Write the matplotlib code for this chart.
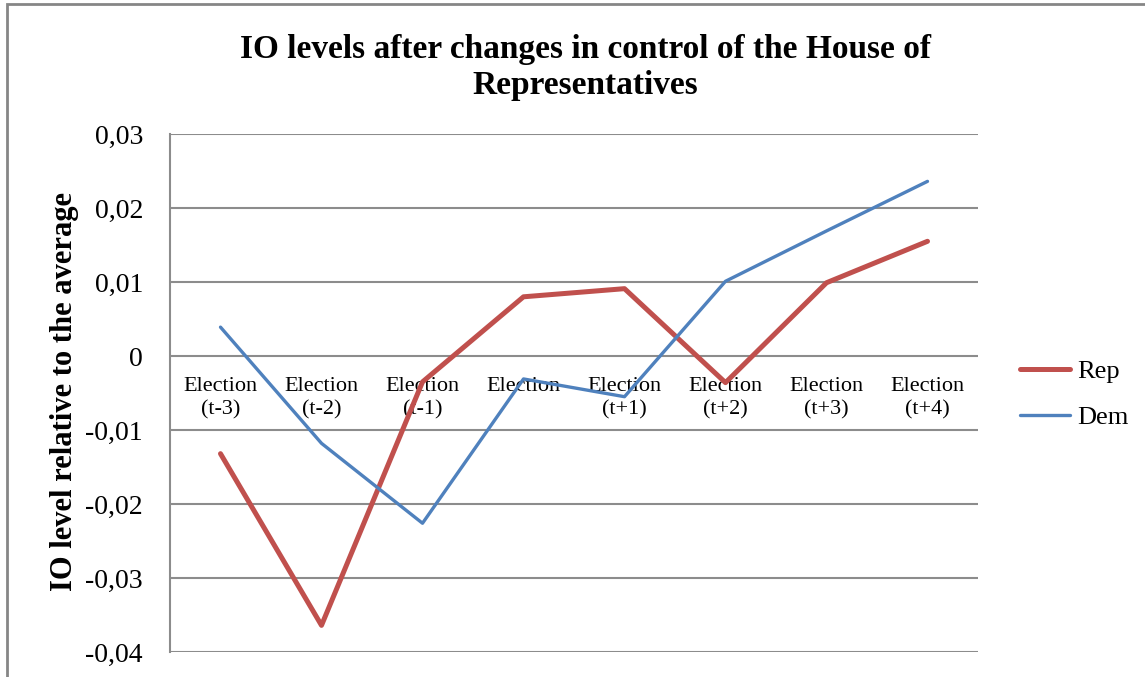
import matplotlib
matplotlib.use("Agg")
import matplotlib.pyplot as plt
from matplotlib.patches import Rectangle
from matplotlib.ticker import FuncFormatter

# Données
categories = ["Election\n(t-3)", "Election\n(t-2)", "Election\n(t-1)", "Election",
              "Election\n(t+1)", "Election\n(t+2)", "Election\n(t+3)", "Election\n(t+4)"]
rep = [-0.0132, -0.0364, -0.0035, 0.0080, 0.0091, -0.0036, 0.0099, 0.0155]
dem = [0.0039, -0.0118, -0.0226, -0.0031, -0.0055, 0.0101, 0.0169, 0.0236]

serif = "Liberation Serif"
grid_col = "#8c8c8c"

fig = plt.figure(figsize=(11.45, 6.77), dpi=100)
ax = fig.add_axes([170 / 1145, 25 / 677, 808 / 1145, 518 / 677])

# Cadre du graphique
fig.patches.append(Rectangle((7 / 1145, -0.1), 1.2, (673 / 677) + 0.1,
                             transform=fig.transFigure, fill=False,
                             edgecolor="#868686", linewidth=2))

x = [i + 0.5 for i in range(len(categories))]
ax.plot(x, rep, color="#C0504D", linewidth=3.6, label="Rep", solid_capstyle="round", zorder=3)
ax.plot(x, dem, color="#4F81BD", linewidth=2.4, label="Dem", solid_capstyle="round", zorder=3)

ax.set_xlim(0, len(categories))
ax.set_ylim(-0.04, 0.03)
ax.set_yticks([-0.04, -0.03, -0.02, -0.01, 0, 0.01, 0.02, 0.03])
ax.yaxis.set_major_formatter(FuncFormatter(
    lambda v, p: "0" if abs(v) < 1e-9 else f"{v:.2f}".replace(".", ",")))
ax.set_xticks([])
ax.grid(axis="y", color=grid_col, linewidth=1.5)
ax.set_axisbelow(True)
for s in ["top", "right", "bottom"]:
    ax.spines[s].set_visible(False)
ax.spines["left"].set_color(grid_col)
ax.spines["left"].set_linewidth(1.5)
ax.tick_params(axis="y", length=0, pad=19.5, labelsize=20)
for lab in ax.get_yticklabels():
    lab.set_fontfamily(serif)

# Étiquettes des catégories sur l'axe y = 0
for xi, c in zip(x, categories):
    ax.text(xi, -0.0028, c, ha="center", va="top", fontsize=16,
            family=serif, linespacing=1.3, zorder=2)

ax.set_ylabel("IO level relative to the average", fontsize=22, fontweight="bold",
              family=serif)
ax.yaxis.set_label_coords(-0.113, 0.502)

fig.text(0.511, 0.900, "IO levels after changes in control of the House of\nRepresentatives",
         ha="center", va="center", fontsize=24, fontweight="bold", family=serif,
         linespacing=1.2)

ax.legend(loc="center left", bbox_to_anchor=(1.022, 0.497), frameon=False,
          prop={"family": serif, "size": 19}, handlelength=1.9, handletextpad=0.3,
          labelspacing=0.85)

fig.savefig("out.png", dpi=100)
